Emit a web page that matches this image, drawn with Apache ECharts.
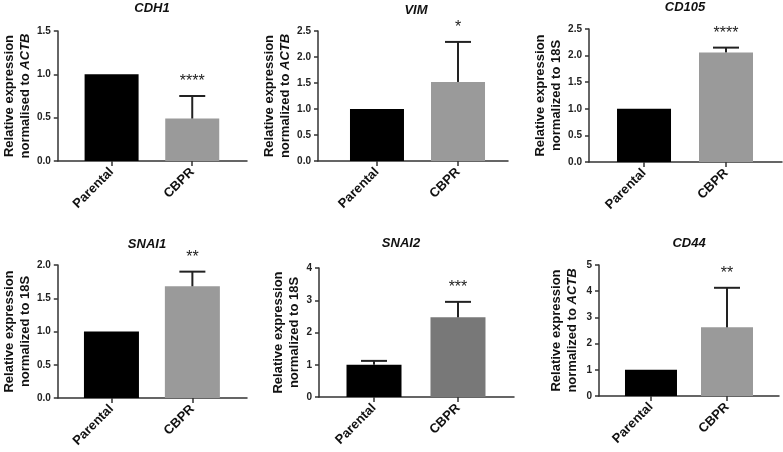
<!DOCTYPE html>
<html>
<head>
<meta charset="utf-8">
<script src="https://cdn.jsdelivr.net/npm/echarts@6/dist/echarts.min.js"></script>
<style>html,body{margin:0;padding:0;background:#fff;}#c{width:783px;height:452px;}</style>
</head>
<body>
<div id="c"></div>
<script>
// ---- data ----
var categories = ['Parental', 'CBPR'];
var genes = ['CDH1', 'VIM', 'CD105', 'SNAI1', 'SNAI2', 'CD44'];
var normWord = ['normalised to ', 'normalized to ', 'normalized to ', 'normalized to ', 'normalized to ', 'normalized to '];
var refGene = ['ACTB', 'ACTB', '18S', '18S', '18S', 'ACTB'];
var parentalValues = [1, 1, 1, 1, 1, 1];
var cbprValues = [0.49, 1.52, 2.06, 1.68, 2.47, 2.62];
var parentalErr = [0, 0, 0, 0, 0.12, 0];
var cbprErr = [0.26, 0.77, 0.09, 0.22, 0.48, 1.51];
var stars = ['****', '*', '****', '**', '***', '**'];
var yMax = [1.5, 2.5, 2.5, 2.0, 4, 5];
var yStep = [0.5, 0.5, 0.5, 0.5, 1, 1];
var yDecimals = [1, 1, 1, 1, 0, 0];

// ---- layout ----
var grids = [
  {left: 57, top: 31, width: 190, height: 130},
  {left: 318, top: 31, width: 190, height: 130},
  {left: 589, top: 29, width: 193, height: 133},
  {left: 53, top: 265, width: 194, height: 133},
  {left: 319, top: 268, width: 195, height: 129},
  {left: 599, top: 265, width: 180, height: 131}
];
var xRange = [[-0.667, 1.679], [-0.728, 1.617], [-0.671, 1.683], [-0.663, 1.675], [-0.655, 1.667], [-0.684, 1.684]];
var barW = [54, 54, 54, 55, 55, 52];
var nameGaps = [24, 18, 22, 20, 16, 19];
var titleCenter = [[152, 8], [416, 10], [685, 7], [147, 244], [401, 243], [689, 243]];
var cbprColor = ['#9a9a9a', '#9a9a9a', '#9a9a9a', '#9a9a9a', '#787878', '#9a9a9a'];

var FONT = '"Liberation Sans", Arial, sans-serif';
var axisColor = '#333';

var option = {
  animation: false,
  backgroundColor: '#fff',
  graphic: [], grid: [], xAxis: [], yAxis: [], series: []
};

genes.forEach(function (g, i) {
  option.graphic.push({
    type: 'text', x: titleCenter[i][0], y: titleCenter[i][1],
    style: {text: g, font: 'italic bold 13px ' + FONT, fill: '#111', align: 'center', verticalAlign: 'middle'}
  });
  option.grid.push(Object.assign({containLabel: false}, grids[i]));
  option.xAxis.push({
    type: 'value', gridIndex: i, min: xRange[i][0], max: xRange[i][1],
    splitLine: {show: false},
    axisLine: {show: true, onZero: false, lineStyle: {color: axisColor, width: 1.5}},
    axisTick: {show: true, customValues: [0, 1], length: 5, lineStyle: {color: axisColor, width: 1.5}},
    axisLabel: {
      customValues: [0, 1], rotate: 45, margin: 9,
      fontFamily: FONT, fontSize: 13, fontWeight: 'bold', color: '#111',
      formatter: function (v) { return categories[Math.round(v)]; }
    }
  });
  option.yAxis.push({
    type: 'value', gridIndex: i, min: 0, max: yMax[i], interval: yStep[i],
    splitLine: {show: false},
    axisLine: {show: true, onZero: false, lineStyle: {color: axisColor, width: 1.5}},
    axisTick: {show: true, length: 4, lineStyle: {color: axisColor, width: 1.5}},
    axisLabel: {
      margin: 7, fontFamily: FONT, fontSize: 10, fontWeight: 'bold', color: '#222',
      formatter: function (v) { return v.toFixed(yDecimals[i]); }
    },
    name: '{n|Relative expression}\n{n|' + normWord[i] + '}{' + (refGene[i] === 'ACTB' ? 'i' : 'n') + '|' + refGene[i] + '}',
    nameLocation: 'middle', nameRotate: 90, nameGap: nameGaps[i],
    nameTextStyle: {
      fontFamily: FONT, fontSize: 13, fontWeight: 'bold', color: '#111', lineHeight: 16,
      rich: {
        n: {fontFamily: FONT, fontSize: 13, fontWeight: 'bold', color: '#111', lineHeight: 16},
        i: {fontFamily: FONT, fontSize: 13, fontWeight: 'bold', fontStyle: 'italic', color: '#111', lineHeight: 16}
      }
    }
  });
  option.series.push({
    type: 'bar', xAxisIndex: i, yAxisIndex: i, barWidth: barW[i],
    data: [
      {value: [0, parentalValues[i]], itemStyle: {color: '#000'}},
      {value: [1, cbprValues[i]], itemStyle: {color: cbprColor[i]}}
    ]
  });
  var errData = [[0, parentalValues[i], parentalErr[i]], [1, cbprValues[i], cbprErr[i]]];
  option.series.push({
    type: 'custom', xAxisIndex: i, yAxisIndex: i, z: 5,
    data: errData,
    renderItem: function (params, api) {
      var x = api.value(0), y = api.value(1), e = api.value(2);
      var children = [];
      var base = api.coord([x, y]);
      var top = api.coord([x, y + e]);
      if (e > 0) {
        children.push({type: 'line', shape: {x1: base[0], y1: base[1], x2: top[0], y2: top[1]},
          style: {stroke: '#222', lineWidth: 2}});
        children.push({type: 'line', shape: {x1: top[0] - 13, y1: top[1], x2: top[0] + 13, y2: top[1]},
          style: {stroke: '#222', lineWidth: 2}});
      }
      if (params.dataIndex === 1) {
        children.push({type: 'text', x: top[0], y: top[1] - 6,
          style: {text: stars[i], fill: '#222', font: '16px ' + FONT, align: 'center', verticalAlign: 'bottom'}});
      }
      return {type: 'group', children: children};
    }
  });
});

var chart = echarts.init(document.getElementById('c'), null, {renderer: 'canvas'});
chart.setOption(option);
</script>
</body>
</html>
